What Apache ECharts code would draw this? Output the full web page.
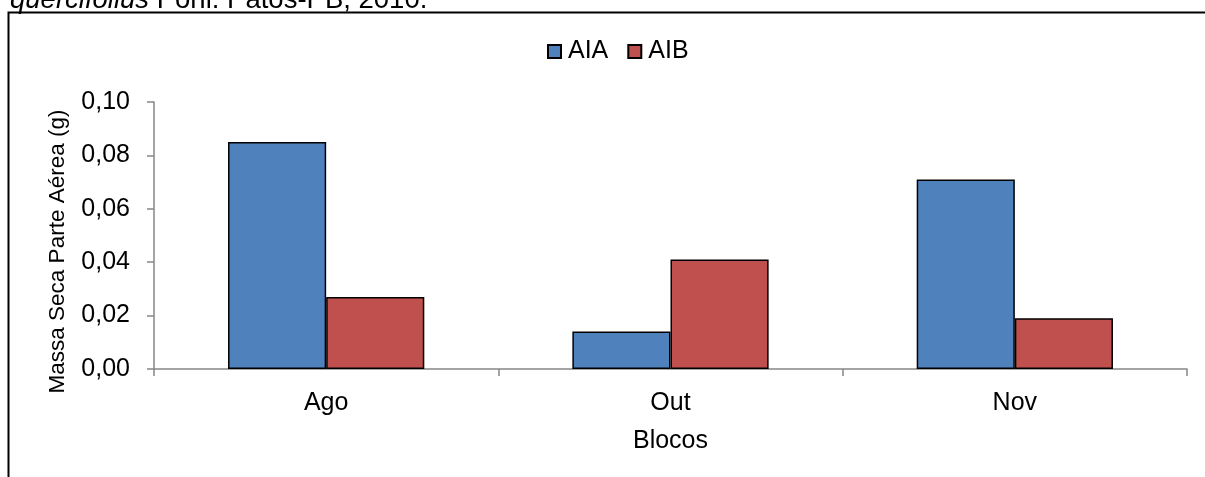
<!DOCTYPE html>
<html>
<head>
<meta charset="utf-8">
<script src="https://cdn.jsdelivr.net/npm/echarts@6/dist/echarts.min.js"></script>
<style>
html,body{margin:0;padding:0;background:#fff;}
#chart{width:1205px;height:477px;}
</style>
</head>
<body>
<div id="chart"></div>
<script>
const categories = ['Ago', 'Out', 'Nov'];
const seriesNames = ['AIA', 'AIB'];
const valuesAIA = [0.085, 0.014, 0.071];
const valuesAIB = [0.027, 0.041, 0.019];
const yTicks = [0, 0.02, 0.04, 0.06, 0.08, 0.10];

const FONT = '"Liberation Sans", Arial, sans-serif';
const FS = 25;
const chart = echarts.init(document.getElementById('chart'));
chart.setOption({
  animation: false,
  backgroundColor: '#fff',
  textStyle: { fontFamily: FONT },
  graphic: [
    {
      type: 'rect',
      shape: { x: 8.5, y: 12.5, width: 1400, height: 800 },
      style: { fill: 'none', stroke: '#000', lineWidth: 2 },
      silent: true
    },
    {
      type: 'text',
      left: 10, top: -14,
      style: {
        text: '{i|quercifolius} Pohl. Patos-PB, 2010.',
        rich: {
          i: { fontStyle: 'italic', fontSize: 27.5, fontFamily: FONT, fill: '#000' }
        },
        fontSize: 27.5, fontFamily: FONT, fill: '#000'
      },
      silent: true
    }
  ],
  legend: {
    data: seriesNames,
    top: 34,
    left: 542,
    itemWidth: 13,
    itemHeight: 13,
    itemGap: 19,
    icon: 'rect',
    textStyle: { fontSize: FS, color: '#000', fontFamily: FONT, padding: [0, 0, 0, 2] }
  },
  grid: { left: 154, right: 18, top: 102, bottom: 108, containLabel: false },
  xAxis: {
    type: 'category',
    data: categories,
    name: 'Blocos',
    nameLocation: 'middle',
    nameGap: 60,
    nameTextStyle: { fontSize: FS, color: '#000', fontFamily: FONT },
    axisLine: { lineStyle: { color: '#868686', width: 1.5 } },
    axisTick: { show: true, length: 7, alignWithLabel: false, lineStyle: { color: '#868686', width: 1.5 } },
    axisLabel: { fontSize: FS, color: '#000', margin: 22, fontFamily: FONT },
    splitLine: { show: false }
  },
  yAxis: {
    type: 'value',
    min: 0,
    max: 0.1,
    interval: 0.02,
    name: 'Massa Seca Parte Aérea (g)',
    nameLocation: 'middle',
    nameGap: 85,
    nameRotate: 90,
    nameTextStyle: { fontSize: 22.5, color: '#000', fontFamily: FONT, padding: [0, 32, 0, 0] },
    axisLine: { show: true, lineStyle: { color: '#868686', width: 1.5 } },
    axisTick: { show: true, length: 7, lineStyle: { color: '#868686', width: 1.5 } },
    axisLabel: {
      fontSize: FS, color: '#000', margin: 24, fontFamily: FONT,
      formatter: v => {
        const t = yTicks.find(x => Math.abs(x - v) < 1e-9);
        return (t !== undefined ? t : v).toFixed(2).replace('.', ',');
      }
    },
    splitLine: { show: false }
  },
  series: [
    {
      name: seriesNames[0], type: 'bar', data: valuesAIA,
      barGap: '0%', barCategoryGap: '43%',
      itemStyle: { color: '#4F81BD', borderColor: '#000', borderWidth: 1.5 }
    },
    {
      name: seriesNames[1], type: 'bar', data: valuesAIB,
      barGap: '0%', barCategoryGap: '43%',
      itemStyle: { color: '#C0504D', borderColor: '#000', borderWidth: 1.5 }
    }
  ]
});
</script>
</body>
</html>
